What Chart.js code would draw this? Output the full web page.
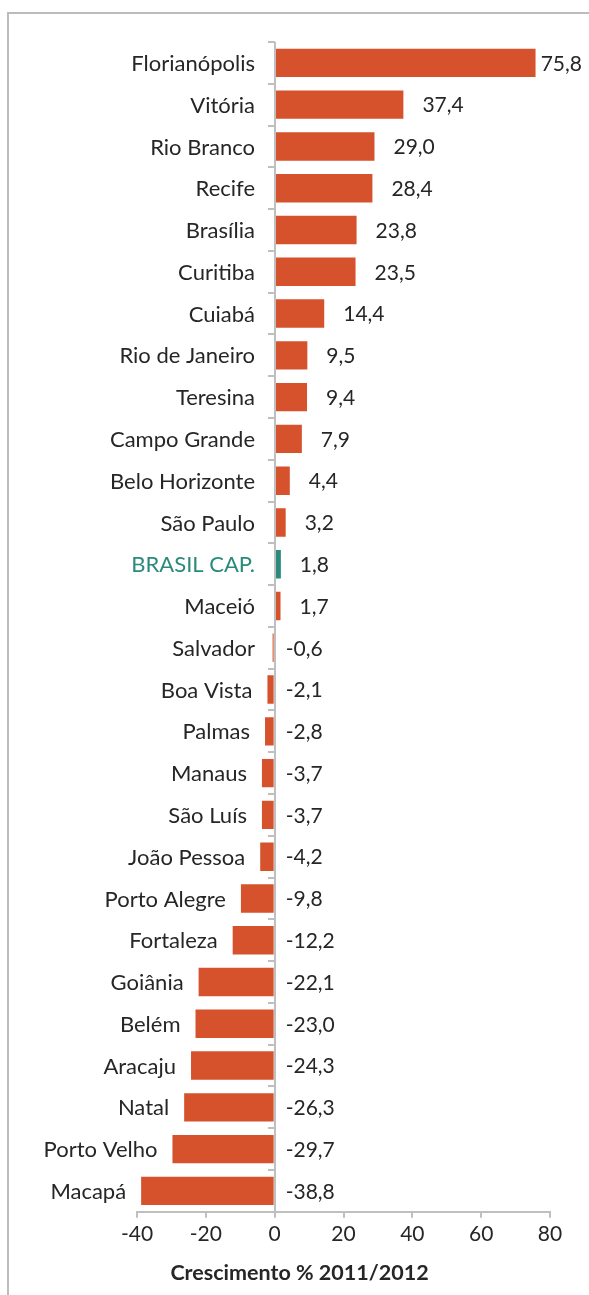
<!DOCTYPE html>
<html>
<head>
<meta charset="utf-8">
<script src="https://cdn.jsdelivr.net/npm/chart.js@4.4.0/dist/chart.umd.min.js"></script>
<style>
  html, body { margin: 0; padding: 0; background: #fff; }
  #wrap { width: 589px; height: 1295px; position: relative; }
</style>
</head>
<body>
<div id="wrap"><canvas id="c"></canvas></div>
<script>
// Capital cities, ordered from highest to lowest growth
const cities = [
  'Florianópolis', 'Vitória', 'Rio Branco', 'Recife', 'Brasília', 'Curitiba',
  'Cuiabá', 'Rio de Janeiro', 'Teresina', 'Campo Grande', 'Belo Horizonte',
  'São Paulo', 'BRASIL CAP.', 'Maceió', 'Salvador', 'Boa Vista', 'Palmas',
  'Manaus', 'São Luís', 'João Pessoa', 'Porto Alegre', 'Fortaleza', 'Goiânia',
  'Belém', 'Aracaju', 'Natal', 'Porto Velho', 'Macapá'
];
// Growth 2011/2012, in percent
const growth = [
  75.8, 37.4, 29.0, 28.4, 23.8, 23.5,
  14.4, 9.5, 9.4, 7.9, 4.4,
  3.2, 1.8, 1.7, -0.6, -2.1, -2.8,
  -3.7, -3.7, -4.2, -9.8, -12.2, -22.1,
  -23.0, -24.3, -26.3, -29.7, -38.8
];
const totalLabel = 'BRASIL CAP.';
const xTickValues = [-40, -20, 0, 20, 40, 60, 80];
const axisTitle = 'Crescimento % 2011/2012';

const BAR = '#d6522d';
const TOTAL = '#2a8a7b';
const INK = '#262626';
const RULE = '#bfbfbf';
const FONT = 'Lato, "Open Sans", sans-serif';

const fmt = v => v.toFixed(1).replace('.', ',');

// Outer frame (top and left edges)
const framePlugin = {
  id: 'frame',
  beforeDraw(chart) {
    const c = chart.ctx;
    c.save();
    c.strokeStyle = '#bcbcbc';
    c.lineWidth = 2;
    c.beginPath();
    c.moveTo(8, chart.height);
    c.lineTo(8, 13);
    c.lineTo(chart.width, 13);
    c.stroke();
    c.restore();
  }
};

// Category axis sitting on x = 0: line, boundary ticks and city names.
// Names step left of negative bars so they never overlap them.
const categoryAxis = {
  id: 'categoryAxis',
  afterDatasetsDraw(chart) {
    const c = chart.ctx;
    const xs = chart.scales.x;
    const ys = chart.scales.y;
    const meta = chart.getDatasetMeta(0);
    const zero = Math.round(xs.getPixelForValue(0));
    const top = chart.chartArea.top;
    const bottom = chart.chartArea.bottom;
    const n = cities.length;
    const step = (bottom - top) / n;
    c.save();
    c.strokeStyle = RULE;
    c.lineWidth = 2;
    c.beginPath();
    c.moveTo(zero, top);
    c.lineTo(zero, bottom);
    for (let i = 0; i < n; i++) {
      const yb = Math.round(ys.getPixelForValue(i) - step / 2);
      c.moveTo(zero - 7, yb);
      c.lineTo(zero, yb);
    }
    c.stroke();
    c.font = '22px ' + FONT;
    c.textAlign = 'right';
    c.textBaseline = 'middle';
    cities.forEach((name, i) => {
      const barLeft = Math.min(meta.data[i].x, meta.data[i].base);
      const right = Math.min(zero - 20, barLeft - 15);
      c.fillStyle = name === totalLabel ? TOTAL : INK;
      c.fillText(name, right, ys.getPixelForValue(i) + 1);
    });
    c.restore();
  }
};

// Value labels: right of the bar end for gains, right of zero for losses
const valueLabels = {
  id: 'valueLabels',
  afterDatasetsDraw(chart) {
    const c = chart.ctx;
    const meta = chart.getDatasetMeta(0);
    const xs = chart.scales.x;
    const zero = xs.getPixelForValue(0);
    c.save();
    c.font = '21px ' + FONT;
    c.fillStyle = INK;
    c.textBaseline = 'middle';
    c.textAlign = 'left';
    meta.data.forEach((el, i) => {
      const v = growth[i];
      const txt = fmt(v);
      const w = c.measureText(txt).width;
      let x = v >= 0 ? el.x + 19 : zero + 11;
      if (x + w > chart.width - 7) x = chart.width - 7 - w;
      c.fillText(txt, x, el.y + 1);
    });
    c.restore();
  }
};

// Axis title, centred under the whole figure
const bottomTitle = {
  id: 'bottomTitle',
  afterDraw(chart) {
    const c = chart.ctx;
    c.save();
    c.font = 'bold 21.5px ' + FONT;
    c.fillStyle = INK;
    c.textAlign = 'center';
    c.textBaseline = 'middle';
    c.fillText(axisTitle, (chart.width + 10) / 2, chart.height - 22);
    c.restore();
  }
};

new Chart(document.getElementById('c'), {
  type: 'bar',
  data: {
    labels: cities,
    datasets: [{
      data: growth,
      backgroundColor: cities.map(n => n === totalLabel ? TOTAL : BAR),
      borderWidth: 0,
      categoryPercentage: 1,
      barPercentage: 0.68
    }]
  },
  options: {
    indexAxis: 'y',
    responsive: true,
    maintainAspectRatio: false,
    animation: false,
    layout: { padding: { left: 137, right: 39, top: 42, bottom: 44 } },
    plugins: {
      legend: { display: false },
      tooltip: { enabled: false }
    },
    scales: {
      x: {
        type: 'linear',
        min: -40,
        max: 80,
        afterBuildTicks(scale) { scale.ticks = xTickValues.map(v => ({ value: v })); },
        ticks: {
          color: INK,
          font: { family: FONT, size: 21 },
          padding: 4,
          callback: v => String(v)
        },
        grid: { drawOnChartArea: false, drawTicks: true, tickLength: 6, color: RULE, lineWidth: 2 },
        border: { display: true, color: RULE, width: 2 }
      },
      y: {
        type: 'category',
        position: { x: 0 },
        offset: true,
        ticks: { display: false },
        grid: { display: false },
        border: { display: false }
      }
    }
  },
  plugins: [framePlugin, valueLabels, categoryAxis, bottomTitle]
});
</script>
</body>
</html>
